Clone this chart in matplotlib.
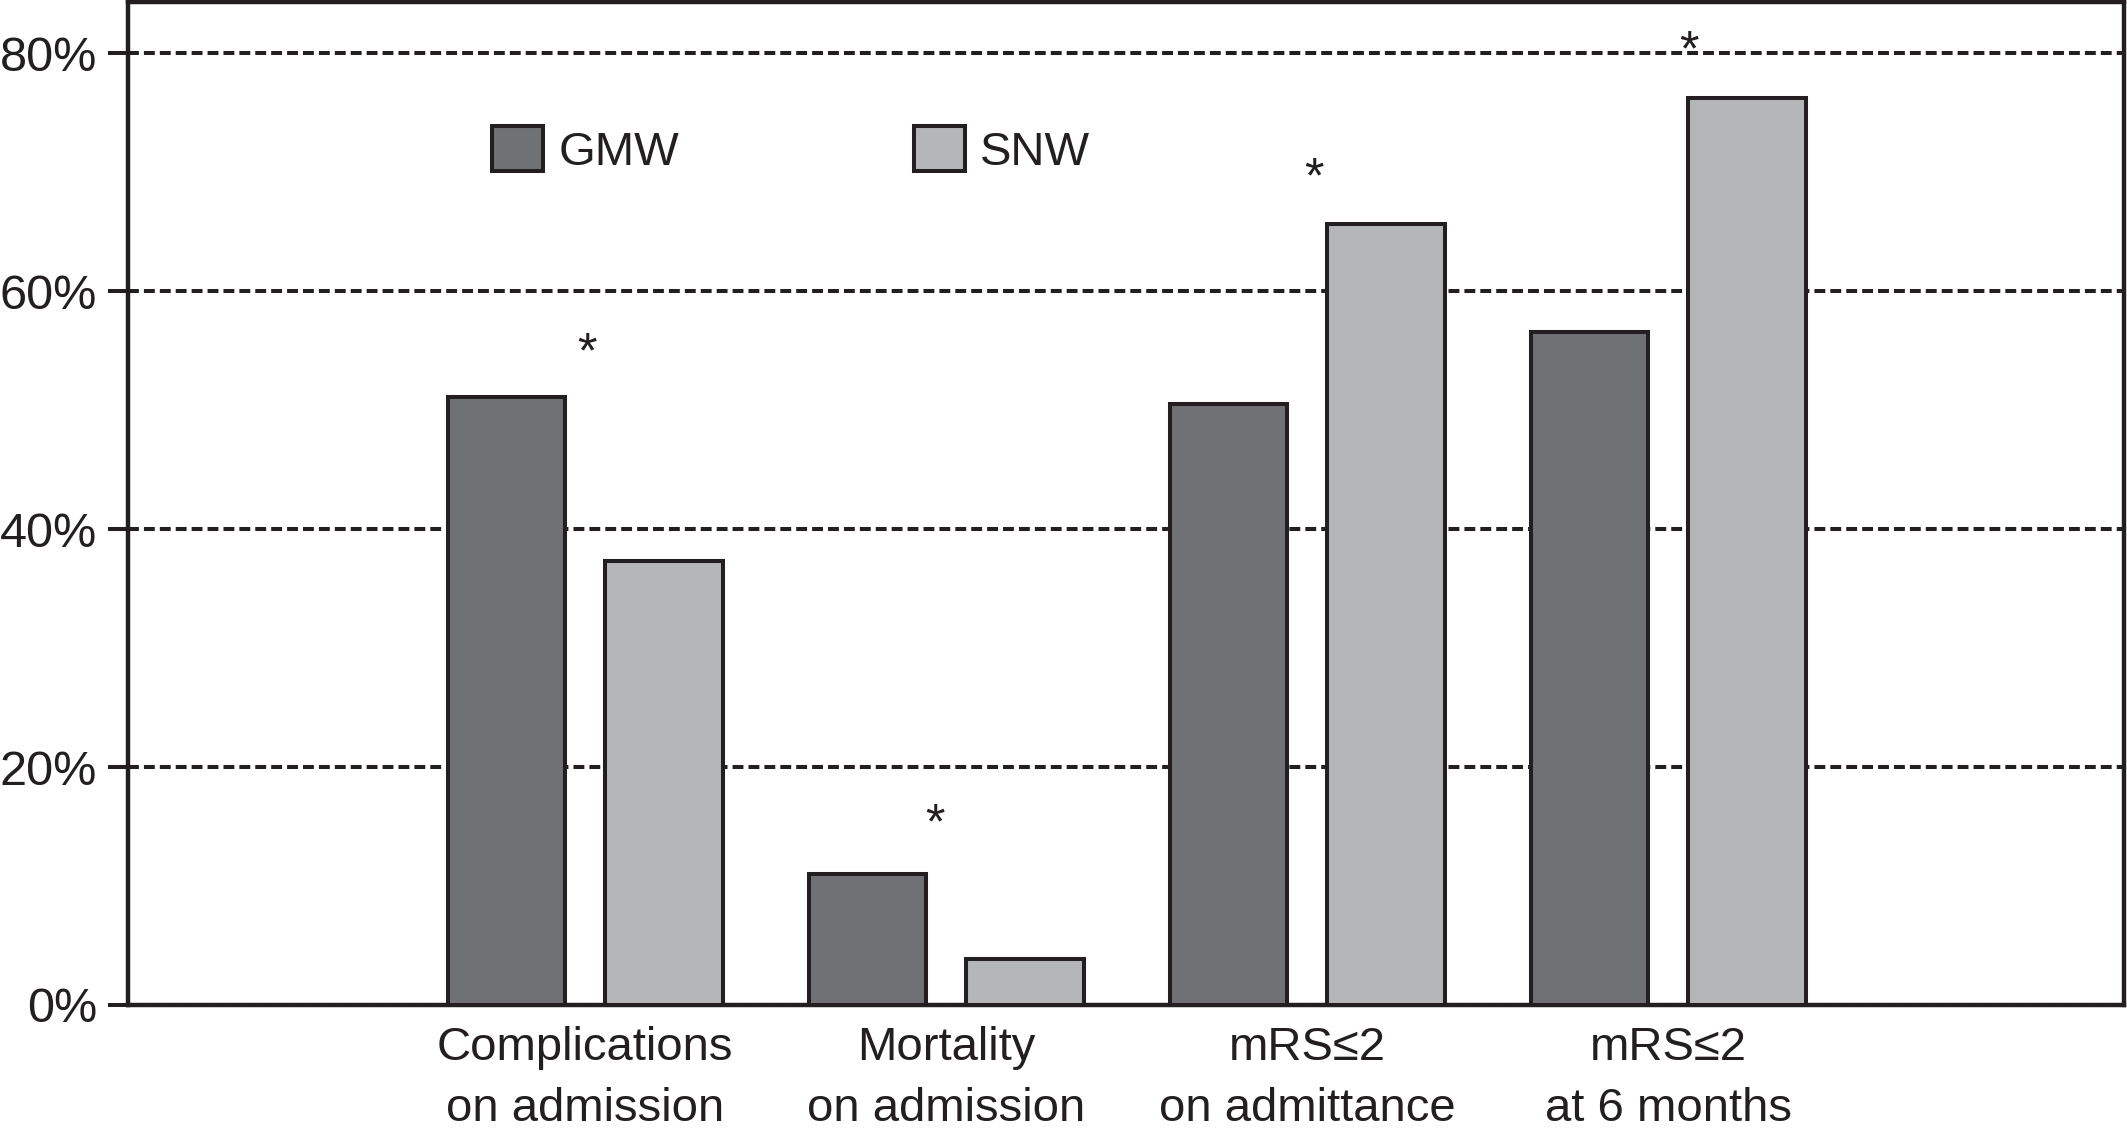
import numpy as np
import matplotlib
matplotlib.use('Agg')
import matplotlib.pyplot as plt

# values (%)
categories = ['Complications\non admission', 'Mortality\non admission',
              'mRS\u22642\non admittance', 'mRS\u22642\nat 6 months']
gmw = [51.1, 11.0, 50.5, 56.6]
snw = [37.3, 3.9, 65.6, 76.2]
# significance marks: x shift from group centre, height of mark centre
star_shift = [0.004, -0.031, 0.018, 0.056]
star_height = [55.7, 16.1, 70.4, 81.1]
yticks = [0, 20, 40, 60, 80]
ytick_labels = ['0%', '20%', '40%', '60%', '80%']

plt.rcParams['font.family'] = ['Liberation Sans', 'DejaVu Sans']
ink = '#231f20'

W, H = 2127, 1132
fig = plt.figure(figsize=(W / 100, H / 100), dpi=100)
ax = fig.add_axes([128 / W, 127 / H, 1996 / W, 1003 / H])

x = np.arange(len(categories))
width = 0.325
off = 0.218
ax.bar(x - off, gmw, width, color='#707175', edgecolor=ink, linewidth=2.9,
       label='GMW', zorder=3)
ax.bar(x + off, snw, width, color='#b5b6b8', edgecolor=ink, linewidth=2.9,
       label='SNW', zorder=3)

for i in range(len(categories)):
    ax.annotate('*', (x[i] + star_shift[i], star_height[i]), xytext=(0, -18),
                textcoords='offset points', ha='center', va='baseline',
                fontsize=36, color=ink, zorder=4)

ax.set_xlim(-1.2666, 4.2625)
ax.set_ylim(0, 84.3)
ax.set_yticks(yticks)
ax.set_yticklabels(ytick_labels)
ax.set_xticks(x)
ax.set_xticklabels(categories, linespacing=1.5)

ax.tick_params(axis='y', length=14.4, width=2.9, color=ink, pad=8,
               labelsize=35, labelcolor=ink)
ax.tick_params(axis='x', length=0, pad=15, labelsize=34, labelcolor=ink)

ax.set_axisbelow(True)
ax.yaxis.grid(True, linestyle=(0, (2.7, 1.25)), linewidth=2.9, color=ink)

for s in ax.spines.values():
    s.set_linewidth(3.2)
    s.set_color(ink)

ax.legend(loc='upper left', bbox_to_anchor=(0.1822, 0.8764), ncol=2,
          frameon=False, fontsize=34, borderpad=0, borderaxespad=0,
          handlelength=1.09, handleheight=1.10, handletextpad=0.32,
          columnspacing=4.97, labelcolor=ink)

fig.savefig('out.png', dpi=100, facecolor='white')
